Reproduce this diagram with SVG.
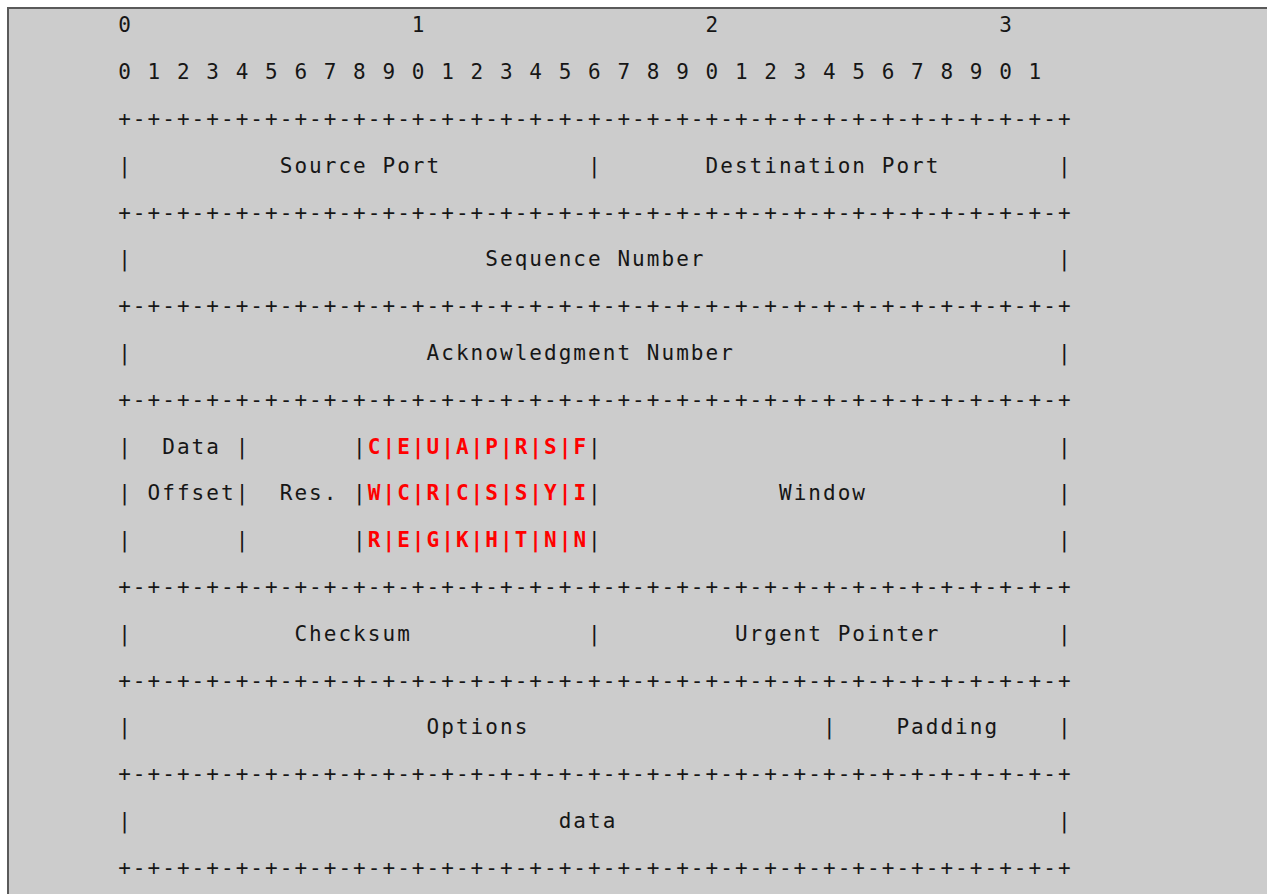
<svg xmlns="http://www.w3.org/2000/svg" width="1267" height="894" viewBox="0 0 1267 894">
<style>
.t{font-family:"DejaVu Sans Mono","Liberation Mono",monospace;font-size:21px;letter-spacing:2.04px;fill:#161616;white-space:pre}
.r{fill:#ff0000;font-weight:bold}
</style>
<rect x="0" y="0" width="1267" height="894" fill="#ffffff"/>
<rect x="8" y="8" width="1270" height="900" fill="#cccccc" stroke="#5a5a5a" stroke-width="2"/>
<g id="header" xml:space="preserve">
<text class="t" x="118.2" y="32.4">0                   1                   2                   3</text>
<text class="t" x="118.2" y="79.2">0 1 2 3 4 5 6 7 8 9 0 1 2 3 4 5 6 7 8 9 0 1 2 3 4 5 6 7 8 9 0 1</text>
<text class="t" x="118.2" y="126">+-+-+-+-+-+-+-+-+-+-+-+-+-+-+-+-+-+-+-+-+-+-+-+-+-+-+-+-+-+-+-+-+</text>
</g>
<g id="ports" xml:space="preserve">
<text class="t" x="118.2" y="172.8">|          Source Port          |       Destination Port        |</text>
<text class="t" x="118.2" y="219.6">+-+-+-+-+-+-+-+-+-+-+-+-+-+-+-+-+-+-+-+-+-+-+-+-+-+-+-+-+-+-+-+-+</text>
</g>
<g id="seq" xml:space="preserve">
<text class="t" x="118.2" y="266.4">|                        Sequence Number                        |</text>
<text class="t" x="118.2" y="313.2">+-+-+-+-+-+-+-+-+-+-+-+-+-+-+-+-+-+-+-+-+-+-+-+-+-+-+-+-+-+-+-+-+</text>
</g>
<g id="ack" xml:space="preserve">
<text class="t" x="118.2" y="360">|                    Acknowledgment Number                      |</text>
<text class="t" x="118.2" y="406.8">+-+-+-+-+-+-+-+-+-+-+-+-+-+-+-+-+-+-+-+-+-+-+-+-+-+-+-+-+-+-+-+-+</text>
</g>
<g id="flags" xml:space="preserve">
<text class="t" x="118.2" y="453.6">|  Data |       |<tspan class="r">C|E|U|A|P|R|S|F</tspan>|                               |</text>
<text class="t" x="118.2" y="500.4">| Offset|  Res. |<tspan class="r">W|C|R|C|S|S|Y|I</tspan>|            Window             |</text>
<text class="t" x="118.2" y="547.2">|       |       |<tspan class="r">R|E|G|K|H|T|N|N</tspan>|                               |</text>
<text class="t" x="118.2" y="594">+-+-+-+-+-+-+-+-+-+-+-+-+-+-+-+-+-+-+-+-+-+-+-+-+-+-+-+-+-+-+-+-+</text>
</g>
<g id="checksum" xml:space="preserve">
<text class="t" x="118.2" y="640.8">|           Checksum            |         Urgent Pointer        |</text>
<text class="t" x="118.2" y="687.6">+-+-+-+-+-+-+-+-+-+-+-+-+-+-+-+-+-+-+-+-+-+-+-+-+-+-+-+-+-+-+-+-+</text>
</g>
<g id="options" xml:space="preserve">
<text class="t" x="118.2" y="734.4">|                    Options                    |    Padding    |</text>
<text class="t" x="118.2" y="781.2">+-+-+-+-+-+-+-+-+-+-+-+-+-+-+-+-+-+-+-+-+-+-+-+-+-+-+-+-+-+-+-+-+</text>
</g>
<g id="data" xml:space="preserve">
<text class="t" x="118.2" y="828">|                             data                              |</text>
<text class="t" x="118.2" y="874.8">+-+-+-+-+-+-+-+-+-+-+-+-+-+-+-+-+-+-+-+-+-+-+-+-+-+-+-+-+-+-+-+-+</text>
</g>
<g id="connectors"/>
</svg>
